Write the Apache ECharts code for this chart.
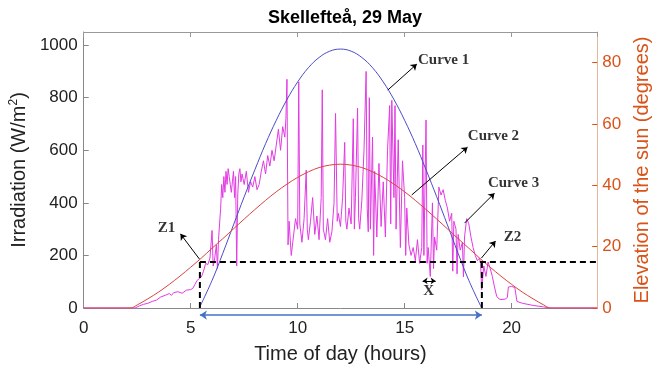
<!DOCTYPE html>
<html>
<head>
<meta charset="utf-8">
<title>Skellefteå, 29 May</title>
<script src="https://cdn.jsdelivr.net/npm/echarts@6/dist/echarts.min.js"></script>
<style>
html,body{margin:0;padding:0;background:#fff;}
#main{width:660px;height:372px;}
</style>
</head>
<body>
<div id="main"></div>
<script>
// Curve 1 - clear sky irradiation (W/m2)
var curve1Hours = [5.4, 6, 6.5, 7, 7.5, 8, 8.5, 9, 9.5, 10, 10.5, 11, 11.5, 12, 12.5, 13, 13.5, 14, 14.5, 15, 15.5, 16, 16.5, 17, 17.5, 18, 18.6];
var curve1Values = [0, 105, 208, 316, 423, 526, 625, 714, 793, 860, 914, 953, 977, 985, 977, 953, 914, 860, 793, 714, 625, 526, 423, 316, 208, 105, 0];

// Curve 2 - elevation of the sun (degrees, right axis)
var curve2Hours = [0, 2.2, 2.5, 3, 3.5, 4, 4.5, 5, 5.5, 6, 6.5, 7, 7.5, 8, 8.5, 9, 9.5, 10, 10.5, 11, 11.5, 12,
    12.5, 13, 13.5, 14, 14.5, 15, 15.5, 16, 16.5, 17, 17.5, 18, 18.5, 19, 19.5, 20, 20.5, 21, 21.5, 21.8, 24];
var curve2Values = [0, 0, 1.0, 3.0, 5.2, 7.7, 10.4, 13.3, 16.3, 19.5, 22.6, 25.8, 29.0, 32.1, 35.1, 37.9, 40.4, 42.6, 44.4, 45.8, 46.6, 46.9,
    46.6, 45.8, 44.4, 42.6, 40.4, 37.9, 35.1, 32.1, 29.0, 25.8, 22.6, 19.5, 16.3, 13.3, 10.4, 7.7, 5.2, 3.0, 1.0, 0, 0];

// Curve 3 - measured irradiation (W/m2)
var curve3Hours = [
    0, 2.4, 2.6, 2.8, 3.0, 3.2, 3.4, 3.6, 3.8, 4.0,
    4.1, 4.2, 4.4, 4.6, 4.8, 5.0, 5.1, 5.2, 5.3, 5.4,
    5.5, 5.6, 5.7, 5.8, 5.9, 6.0, 6.05, 6.1, 6.2, 6.25,
    6.3, 6.4, 6.45, 6.5, 6.55, 6.6, 6.65, 6.7, 6.75, 6.8,
    6.85, 6.9, 6.95, 7.0, 7.05, 7.1, 7.15, 7.2, 7.25, 7.3,
    7.35, 7.4, 7.5, 7.6, 7.7, 7.8, 7.9, 8.0, 8.1, 8.2,
    8.3, 8.4, 8.5, 8.6, 8.7, 8.8, 8.9, 9.0, 9.1, 9.2,
    9.3, 9.4, 9.45, 9.5, 9.55, 9.6, 9.7, 9.8, 9.9, 10.0,
    10.05, 10.1, 10.2, 10.3, 10.4, 10.45, 10.5, 10.6, 10.7, 10.8,
    10.9, 11.0, 11.1, 11.15, 11.2, 11.3, 11.4, 11.5, 11.6, 11.7,
    11.77, 11.85, 11.9, 12.0, 12.1, 12.2, 12.25, 12.3, 12.4, 12.5,
    12.6, 12.65, 12.7, 12.8, 12.85, 12.9, 13.0, 13.1, 13.2, 13.25,
    13.3, 13.35, 13.4, 13.5, 13.55, 13.6, 13.7, 13.8, 13.9, 14.0,
    14.1, 14.2, 14.3, 14.35, 14.4, 14.5, 14.55, 14.6, 14.7, 14.8,
    14.9, 15.0, 15.05, 15.1, 15.2, 15.3, 15.4, 15.5, 15.6, 15.7,
    15.8, 15.85, 15.9, 16.0, 16.05, 16.1, 16.2, 16.3, 16.35, 16.4,
    16.5, 16.6, 16.7, 16.8, 16.9, 17.0, 17.1, 17.2, 17.25, 17.3,
    17.4, 17.45, 17.5, 17.6, 17.7, 17.75, 17.8, 17.9, 17.95, 18.0,
    18.1, 18.2, 18.3, 18.4, 18.5, 18.55, 18.6, 18.7, 18.8, 18.9,
    19.0, 19.1, 19.2, 19.3, 19.4, 19.5, 19.7, 19.8, 19.85, 20.0,
    20.15, 20.25, 20.5, 21.0, 21.5, 21.8, 24
];
var curve3Values = [
    0, 0, 8, 14, 18, 25, 30, 42, 48, 55,
    48, 58, 62, 56, 68, 70, 75, 90, 105, 112,
    118, 140, 170, 165, 190, 295, 160, 175, 240, 150,
    260, 380, 470, 420, 500, 440, 520, 470, 530, 500,
    470, 440, 480, 520, 420, 500, 160, 430, 510, 530,
    480, 510, 470, 520, 440, 480, 460, 500, 450, 470,
    520, 560, 510, 580, 540, 600, 560, 620, 680, 600,
    690, 650, 720, 870, 240, 330, 200, 270, 340, 300,
    860, 320, 250, 340, 525, 300, 260, 330, 420, 280,
    350, 260, 420, 830, 300, 260, 340, 250, 290, 400,
    740, 330, 360, 310, 420, 630, 330, 300, 380, 320,
    720, 300, 420, 760, 340, 300, 410, 600, 900, 380,
    290, 800, 300, 650, 200, 520, 270, 550, 310, 480,
    270, 600, 770, 320, 790, 420, 770, 300, 640, 230,
    560, 420, 200, 380, 240, 200, 230, 180, 260, 170,
    230, 620, 200, 715, 170, 230, 120, 400, 150, 270,
    220, 460, 430, 450, 410, 380, 330, 360, 140, 330,
    300, 130, 280, 220, 250, 118, 270, 340, 345, 320,
    270, 230, 200, 180, 190, 170, 70, 160, 120, 175,
    150, 120, 80, 45, 35, 32, 34, 40, 80, 82,
    78, 25, 18, 10, 4, 0, 0
];

// Z1 / Z2 cut-off marks
var z1Hour = 5.43;
var z2Hour = 18.61;
var z1Top = 184;
var z2Top = 190;
var cutoffLevel = 175;
var dayEnd = 24;

// annotation texts (hour, W/m2)
var noteNames = ['Curve 1', 'Curve 2', 'Curve 3', 'Z1', 'Z2', 'X'];
var noteHours = [16.82, 19.15, 20.09, 3.87, 20.04, 16.12];
var noteLevels = [943, 654, 476, 304, 270, 64];

// annotation arrows: [fromHour, fromLevel, toHour, toLevel]
var arrowLines = [
    [14.21, 829, 15.57, 928],
    [15.33, 430, 17.94, 612],
    [17.80, 323, 19.20, 437],
    [5.41, 186, 4.52, 282],
    [18.59, 190, 19.25, 255]
];
var xArrow = [15.84, 103, 16.45, 103];
var spanArrow = [z1Hour, -27, z2Hour, -27];

function zip(xs, ys) {
    var out = [];
    for (var i = 0; i < xs.length; i++) {
        out.push([xs[i], ys[i]]);
    }
    return out;
}

var myChart = echarts.init(document.getElementById('main'));

var axisFont = 'Liberation Sans, Arial, sans-serif';
var noteFont = 'Liberation Serif, Times New Roman, serif';
var orange = '#D95319';

var notes = [];
for (var i = 0; i < noteNames.length; i++) {
    notes.push({name: noteNames[i], value: [noteHours[i], noteLevels[i]]});
}
var arrows = arrowLines.map(function (a) {
    return {coords: [[a[0], a[1]], [a[2], a[3]]]};
});

var option = {
    animation: false,
    backgroundColor: '#fff',
    title: {
        text: 'Skellefteå, 29 May',
        left: 340,
        textAlign: 'center',
        top: 4,
        textStyle: {fontFamily: axisFont, fontSize: 18, fontWeight: 'bold', color: '#000'}
    },
    grid: {left: 83, right: 62, top: 32, bottom: 64},
    xAxis: [{
        type: 'value',
        min: 0,
        max: dayEnd,
        interval: 5,
        name: 'Time of day (hours)',
        nameLocation: 'middle',
        nameGap: 36,
        nameTextStyle: {fontFamily: axisFont, fontSize: 20, color: '#222'},
        axisLine: {onZero: false, lineStyle: {color: '#888', width: 1}},
        axisTick: {inside: true, length: 5, lineStyle: {color: '#888'}},
        axisLabel: {fontFamily: axisFont, fontSize: 17, color: '#222', margin: 12, showMaxLabel: false},
        splitLine: {show: false}
    }, {
        type: 'value',
        position: 'top',
        min: 0,
        max: dayEnd,
        interval: 5,
        axisLine: {show: true, onZero: false, lineStyle: {color: '#999', width: 1}},
        axisTick: {inside: true, length: 5, lineStyle: {color: '#999'}},
        axisLabel: {show: false},
        splitLine: {show: false}
    }],
    yAxis: [{
        type: 'value',
        position: 'left',
        min: 0,
        max: 1050,
        interval: 200,
        name: 'Irradiation (W/m{sup|2})',
        nameLocation: 'middle',
        nameGap: 51,
        nameTextStyle: {
            fontFamily: axisFont, fontSize: 20, color: '#222',
            rich: {sup: {fontFamily: axisFont, fontSize: 12, color: '#222', verticalAlign: 'top', padding: [0, 0, 10, 0]}}
        },
        axisLine: {show: true, onZero: false, lineStyle: {color: '#888', width: 1}},
        axisTick: {show: true, inside: true, length: 5, lineStyle: {color: '#888'}},
        axisLabel: {
            fontFamily: axisFont, fontSize: 17, color: '#222', margin: 6, showMaxLabel: false,
            formatter: function (v) { return String(v); }
        },
        splitLine: {show: false}
    }, {
        type: 'value',
        position: 'right',
        min: 0,
        max: 90,
        interval: 20,
        name: 'Elevation of the sun (degrees)',
        nameLocation: 'middle',
        nameGap: 32,
        nameTextStyle: {fontFamily: axisFont, fontSize: 20, color: orange},
        axisLine: {show: true, onZero: false, lineStyle: {color: '#E8B69A', width: 1}},
        axisTick: {show: true, inside: true, length: 5, lineStyle: {color: orange}},
        axisLabel: {fontFamily: axisFont, fontSize: 17, color: orange, margin: 5, showMaxLabel: false},
        splitLine: {show: false}
    }],
    series: [
        {
            name: 'Curve 3',
            type: 'line',
            data: zip(curve3Hours, curve3Values),
            showSymbol: false,
            lineStyle: {color: '#E23BE2', width: 1},
            z: 2
        },
        {
            name: 'Curve 1',
            type: 'line',
            data: zip(curve1Hours, curve1Values),
            smooth: 0.4,
            showSymbol: false,
            lineStyle: {color: '#4B4BC8', width: 1},
            z: 3
        },
        {
            name: 'Curve 2',
            type: 'line',
            yAxisIndex: 1,
            data: zip(curve2Hours, curve2Values),
            smooth: 0.3,
            showSymbol: false,
            lineStyle: {color: '#D9433F', width: 1},
            z: 3
        },
        // dashed cut-off lines
        {
            type: 'line',
            data: [[z1Hour, 0], [z1Hour, z1Top]],
            showSymbol: false,
            lineStyle: {color: '#000', width: 2, type: [6, 4]},
            z: 4
        },
        {
            type: 'line',
            data: [[z2Hour, 0], [z2Hour, z2Top]],
            showSymbol: false,
            lineStyle: {color: '#000', width: 2, type: [6, 4]},
            z: 4
        },
        {
            type: 'line',
            data: [[z1Hour, cutoffLevel], [dayEnd, cutoffLevel]],
            showSymbol: false,
            lineStyle: {color: '#000', width: 2, type: [6, 4]},
            z: 4
        },
        // annotation arrows
        {
            type: 'lines',
            coordinateSystem: 'cartesian2d',
            clip: false,
            symbol: ['none', 'arrow'],
            symbolSize: 6,
            lineStyle: {color: '#000', width: 1, opacity: 1},
            data: arrows,
            z: 5
        },
        {
            type: 'lines',
            coordinateSystem: 'cartesian2d',
            clip: false,
            symbol: ['arrow', 'arrow'],
            symbolSize: 5,
            lineStyle: {color: '#000', width: 1, opacity: 1},
            data: [{coords: [[xArrow[0], xArrow[1]], [xArrow[2], xArrow[3]]]}],
            z: 5
        },
        {
            type: 'lines',
            coordinateSystem: 'cartesian2d',
            clip: false,
            symbol: ['arrow', 'arrow'],
            symbolSize: 7,
            lineStyle: {color: '#4472C4', width: 1.5, opacity: 1},
            data: [{coords: [[spanArrow[0], spanArrow[1]], [spanArrow[2], spanArrow[3]]]}],
            z: 5
        },
        // annotation texts
        {
            type: 'scatter',
            data: notes,
            symbolSize: 1,
            itemStyle: {color: 'rgba(0,0,0,0)'},
            label: {
                show: true,
                position: 'inside',
                formatter: function (p) { return p.name; },
                fontFamily: noteFont,
                fontSize: 15,
                fontWeight: 'bold',
                color: '#000'
            },
            z: 6
        }
    ]
};

myChart.setOption(option);
</script>
</body>
</html>
